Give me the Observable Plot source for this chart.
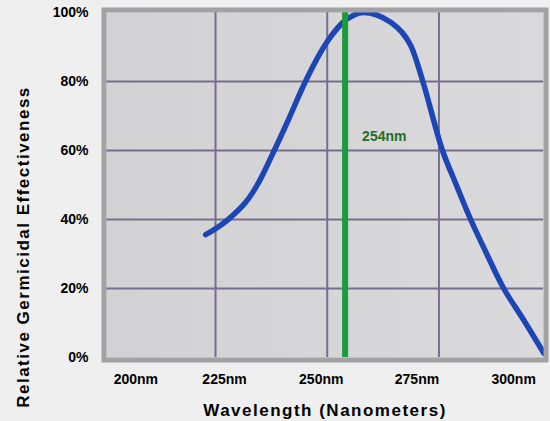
<!DOCTYPE html>
<html>
<head>
<meta charset="utf-8">
<script src="https://cdn.jsdelivr.net/npm/d3@7"></script>
<script src="https://cdn.jsdelivr.net/npm/@observablehq/plot@0.6"></script>
<style>
  html, body { margin: 0; padding: 0; background: #efefef; }
  #chart svg { display: block; }
  #chart .title-text text { letter-spacing: 1.5px; }
</style>
</head>
<body>
<div id="chart"></div>
<script>
// Germicidal effectiveness curve
const wavelengthNm = [222.8, 225.0, 228.0, 231.7, 234.6, 237.7, 241.3, 244.4, 246.5, 248.9, 250.9, 253.4, 256.0, 258.2, 261.0, 264.2, 266.7, 268.7, 271.4, 275.8, 278.8, 282.1, 285.6, 289.5, 294.0, 298.5];
const effectivenessPct = [35.6, 37.3, 40.2, 44.9, 50.6, 58.8, 68.9, 78.0, 83.6, 89.3, 93.2, 97.0, 99.3, 100, 99.3, 97.2, 94.3, 90.4, 80.0, 60.0, 50.3, 40.0, 30.3, 20.0, 10.8, 1.2];

const xTickValues = [200, 225, 250, 275, 300];
const xTickLabels = ["200nm", "225nm", "250nm", "275nm", "300nm"];
const yTickValues = [0, 20, 40, 60, 80, 100];
const xGridValues = [225, 250, 275];
const yGridValues = [20, 40, 60, 80];
const peakWavelength = [254];
const peakLabel = "254nm";

const curve = wavelengthNm.map((w, i) => ({w, e: effectivenessPct[i]}));

// pixel offsets of the x tick labels as laid out in the original picture
const xLabelShift = [32, 9, -6, -22, -37];

const font = "'Liberation Sans', Arial, sans-serif";

const defs = () => {
  const d = d3.create("svg:defs");
  const g = d.append("linearGradient").attr("id", "plotbg").attr("x1", "0").attr("x2", "1").attr("y1", "0").attr("y2", "0");
  g.append("stop").attr("offset", "0%").attr("stop-color", "#d2d2d4");
  g.append("stop").attr("offset", "100%").attr("stop-color", "#dadadc");
  return d.node();
};

const chart = Plot.plot({
  width: 550,
  height: 421,
  marginLeft: 106,
  marginRight: 7,
  marginTop: 12,
  marginBottom: 64,
  style: {fontFamily: font, fontWeight: "bold", color: "#000", background: "transparent"},
  x: {domain: [200.6, 298.4]},
  y: {domain: [0, 100]},
  marks: [
    defs,
    Plot.frame({fill: "url(#plotbg)"}),
    Plot.ruleX(xGridValues, {stroke: "#766e8b", strokeWidth: 2}),
    Plot.ruleY(yGridValues, {stroke: "#766e8b", strokeWidth: 2}),
    Plot.line(curve, {x: "w", y: "e", curve: "catmull-rom", stroke: "#1c45b5", strokeWidth: 5.5, strokeLinecap: "round"}),
    Plot.ruleX(peakWavelength, {stroke: "#1b9b3b", strokeWidth: 6}),
    Plot.text([peakLabel], {x: peakWavelength[0], y: 64, dx: 17, textAnchor: "start", fill: "#1f6d2c", fontSize: 14, fontWeight: "bold"}),
    Plot.frame({stroke: "#a2a2a4", strokeWidth: 5, inset: -2.5}),
    Plot.axisY({ticks: yTickValues, tickFormat: d => d + "%", tickSize: 0, tickPadding: 18, fontSize: 14, fontWeight: "bold", label: null}),
    ...xTickValues.map((v, i) => Plot.axisX([v], {tickFormat: () => xTickLabels[i], tickSize: 0, tickPadding: 17, dx: xLabelShift[i], fontSize: 14, fontWeight: "bold", label: null})),
    Plot.text(["Wavelength (Nanometers)"], {className: "title-text", frameAnchor: "bottom", dy: 53, lineAnchor: "middle", textAnchor: "middle", fontSize: 17, fontWeight: "bold"}),
    Plot.text(["Relative Germicidal Effectiveness"], {className: "title-text", frameAnchor: "left", dx: -83, dy: 62, rotate: -90, lineAnchor: "middle", textAnchor: "middle", fontSize: 17, fontWeight: "bold"})
  ]
});

document.getElementById("chart").appendChild(chart);
</script>
</body>
</html>
